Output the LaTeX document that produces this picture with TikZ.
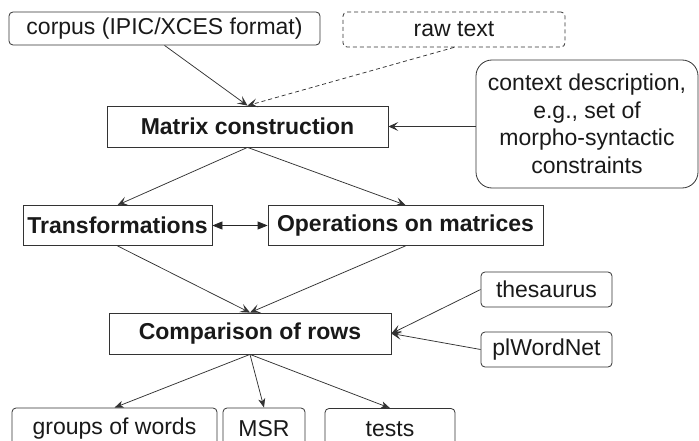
\documentclass[tikz,border=0pt]{standalone}
\usepackage{fontspec}
\setmainfont{Liberation Sans}
\usetikzlibrary{arrows.meta}
\begin{document}
\begin{tikzpicture}[x=1pt,y=-1pt,
  base/.style={draw=black!80, line width=0.8pt, inner sep=0pt,
    font=\fontsize{23}{27.5}\selectfont, text=black!90},
  plainbox/.style={base, font=\bfseries\fontsize{23}{27.5}\selectfont},
  softbox/.style={base, rounded corners=4pt},
  dashline/.style={dash pattern=on 4pt off 3pt},
  link/.style={draw=black!80, line width=0.75pt,
    -{Stealth[length=10pt,width=9pt,inset=4.5pt]}},
  smalllink/.style={draw=black!80, line width=0.75pt,
    -{Stealth[length=9pt,width=7pt,inset=2.5pt]}},
]
\clip (0,0) rectangle (699,441);

% inputs
\node[softbox, minimum width=311pt, minimum height=33pt] (corpus) at (164.5,28.5) {corpus (IPIC/XCES format)};
\node[softbox, dashline, minimum width=222pt, minimum height=35pt] (raw) at (454,29.5) {raw text};
\node[base, rounded corners=16pt, minimum width=222pt, minimum height=128pt, align=center] (context) at (587,124)
  {context description,\\e.g., set of\\morpho-syntactic\\constraints};

% processing steps
\node[plainbox, minimum width=281pt, minimum height=41pt] (matrix) at (247.5,126.5) {Matrix construction};
\node[plainbox, minimum width=189pt, minimum height=40pt] (trans) at (117.5,225.5) {Transformations};
\node[plainbox, minimum width=275pt, minimum height=40pt] (ops) at (405.5,225.5) {Operations on matrices};
\node[plainbox, minimum width=282pt, minimum height=41pt] (comp) at (250,333.5) {Comparison of rows};

% resources
\node[softbox, minimum width=131pt, minimum height=35pt] (thes) at (546.5,289.5) {thesaurus};
\node[softbox, minimum width=131pt, minimum height=35pt] (plwn) at (546.5,349.5) {plWordNet};

% outputs (their lower edges run past the page)
\node[softbox, minimum width=205pt, minimum height=42pt] (groups) at (114.5,429) {groups of words};
\node[softbox, minimum width=82pt, minimum height=42pt] (msr) at (264,429) {MSR};
\node[softbox, minimum width=130pt, minimum height=42pt] (tests) at (390,429.5) {tests};

% connectors
\draw[link] (corpus.south) -- (matrix.north);
\draw[link, dashline] (raw.south) -- (matrix.north);
\draw[link] (context.west |- matrix.east) -- (matrix.east);
\draw[link] (matrix.south) -- (trans.north);
\draw[link] (matrix.south) -- (ops.north);
\draw[draw=black!85, line width=0.8pt,
  {Triangle[length=10pt,width=8pt]}-{Triangle[length=10pt,width=8pt]}] (trans.east) -- (ops.west);
\draw[link] (trans.south) -- (comp.north);
\draw[link] (ops.south) -- (comp.north);
\draw[link] (thes.west) -- (comp.east);
\draw[link] (plwn.west) -- (comp.east);
\draw[smalllink] (comp.south) -- (groups.north);
\draw[smalllink] (comp.south) -- (msr.north);
\draw[smalllink] (comp.south) -- (tests.north);
\end{tikzpicture}
\end{document}
